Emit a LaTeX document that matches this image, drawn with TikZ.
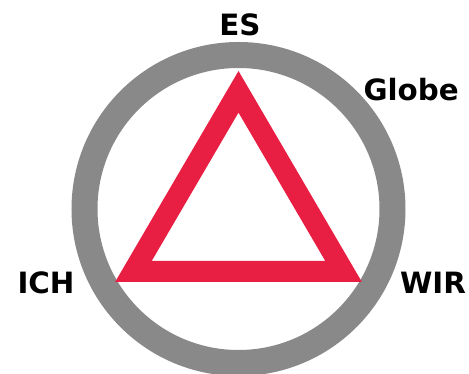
\documentclass[tikz,border=0pt]{standalone}
\usepackage{fontspec}
\setmainfont{DejaVu Sans}

\tikzset{every picture/.style={line width=0.75pt}}
\tikzset{
  ringline/.style={color={rgb, 255:red, 137; green, 137; blue, 137 }, line width=19.5pt},
  triline/.style={color={rgb, 255:red, 232; green, 30; blue, 66 }, line width=15.75pt, line join=miter},
  lbl/.style={inner sep=0.75pt, font=\fontsize{22}{22}\selectfont\bfseries}
}

\begin{document}
\begin{tikzpicture}[x=0.75pt,y=0.75pt,yscale=-1,xscale=1]
\path[use as bounding box] (0,0) rectangle (469,374);

%Shape: Circle
\draw [ringline] (238.5,209) circle [radius=154];

%Shape: Triangle
\coordinate (top) at (238.5,91.8);
\coordinate (left) at (133.4,271.5);
\coordinate (right) at (343.6,271.5);
\draw [triline] (top) -- (left) -- (right) -- cycle;

% Text Node
\node (es) at (240,36) [anchor=base, lbl] {ES};
% Text Node
\node (globe) at (362,101) [anchor=base west, lbl] {Globe};
% Text Node
\node (ich) at (46,294) [anchor=base, lbl] {ICH};
% Text Node
\node (wir) at (433,294) [anchor=base, lbl] {WIR};

\end{tikzpicture}
\end{document}
